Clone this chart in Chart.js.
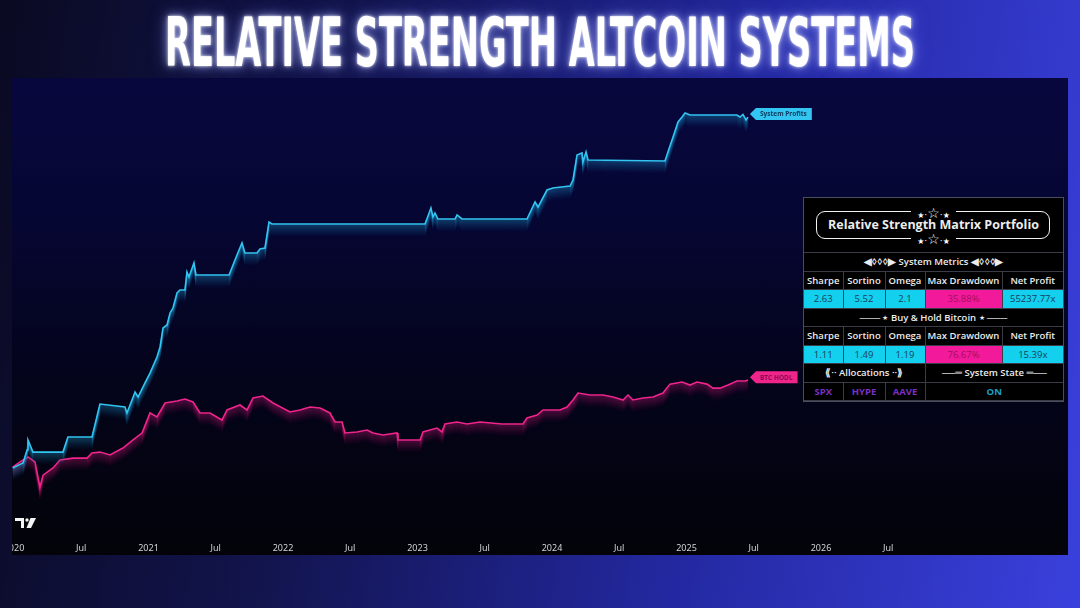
<!DOCTYPE html>
<html>
<head>
<meta charset="utf-8">
<script src="https://cdn.jsdelivr.net/npm/chart.js@4.4.0/dist/chart.umd.min.js"></script>
<style>
  body {
    margin: 0;
    width: 1080px;
    height: 608px;
    overflow: hidden;
    position: relative;
    background: linear-gradient(100deg, #0a0a22 0%, #12144c 30%, #2328a0 65%, #3a40dc 100%);
    font-family: 'Open Sans', 'Noto Sans', sans-serif;
  }
  #titleText {
    position: absolute;
    left: 540px;
    top: 3px;
    line-height: 80px;
    font-family: 'DejaVu Sans Condensed', 'DejaVu Sans', sans-serif;
    font-weight: bold;
    font-size: 68px;
    color: #ffffff;
    white-space: nowrap;
    transform-origin: center center;
    text-shadow: 0 0 4px rgba(255,255,255,0.9), 0 0 12px rgba(190,200,255,0.7), 0 0 24px rgba(130,140,255,0.55);
  }
  #panel {
    position: absolute;
    left: 12px;
    top: 78px;
    width: 1056px;
    height: 477px;
    overflow: hidden;
    background: linear-gradient(180deg, #07073e 0%, #060633 30%, #04041c 62%, #030309 100%);
  }
  #myChart {
    position: absolute;
    left: -32px;
    top: 0;
    width: 1088px;
    height: 477px;
  }
  #tvlogo {
    position: absolute;
    left: 15px;
    top: 518px;
  }
  .matrix {
    position: absolute;
    left: 803px;
    top: 197px;
    width: 259px;
    background: #000;
    border: 1px solid #4a4e5c;
    color: #ececec;
  }
  .mhead {
    position: relative;
    height: 54px;
    border-bottom: 1px solid #3a3d48;
  }
  .frame {
    position: absolute;
    left: 12px;
    top: 13px;
    width: 232px;
    height: 26px;
    border: 1.5px solid #f2f2f2;
    border-radius: 9px;
  }
  .stars {
    position: absolute;
    left: 0;
    width: 259px;
    text-align: center;
    line-height: 12px;
    height: 12px;
  }
  .stars > span {
    background: #000;
    padding: 0 6px;
    color: #fff;
    font-size: 9px;
    font-family: 'DejaVu Sans', sans-serif;
  }
  .stars .s { font-size: 8px; }
  .stars .b { font-size: 14px; }
  .stars.top { top: 8px; }
  .stars.bot { top: 34px; }
  .mtitle {
    position: absolute;
    left: 0;
    top: 17px;
    width: 259px;
    text-align: center;
    font-size: 12.5px;
    font-weight: 700;
    line-height: 20px;
    white-space: nowrap;
  }
  table {
    border-collapse: collapse;
    width: 259px;
    table-layout: fixed;
  }
  td {
    border: 1px solid #3a3d48;
    height: 17.5px;
    padding: 0;
    text-align: center;
    font-size: 9.5px;
    font-weight: 600;
    white-space: nowrap;
    overflow: hidden;
  }
  tr:first-child td { border-top: none; }
  td:first-child { border-left: none; }
  td:last-child { border-right: none; }
  td.val { background: #12d0ee; color: #1a3d58; font-weight: 500; }
  td.dd { background: #f2199a; color: #a4105c; font-weight: 500; }
  td.alloc { color: #7a30c4; font-weight: 700; }
  td.state { color: #1c9fc8; font-weight: 700; }
</style>
</head>
<body>
<span id="titleText">RELATIVE STRENGTH ALTCOIN SYSTEMS</span>
<div id="panel"><canvas id="myChart" width="1088" height="477"></canvas></div>
<svg id="tvlogo" width="22" height="11" viewBox="0 0 22 11">
  <path d="M0 0 H9 V10 H6 V3 H0 Z" fill="#f4f4f4"/>
  <circle cx="12" cy="2" r="1.7" fill="#f4f4f4"/>
  <path d="M15.5 0 H21 L16 10 H11.5 Z" fill="#f4f4f4"/>
</svg>
<div class="matrix">
  <div class="mhead">
    <div class="frame"></div>
    <div class="stars top"><span><span class="s">★</span>·<span class="b">☆</span>·<span class="s">★</span></span></div>
    <div class="stars bot"><span><span class="s">★</span>·<span class="b">☆</span>·<span class="s">★</span></span></div>
    <div class="mtitle">Relative Strength Matrix Portfolio</div>
  </div>
  <table class="js-table">
    <colgroup><col style="width:39px"><col style="width:42px"><col style="width:40px"><col style="width:77px"><col style="width:61px"></colgroup>
  </table>
</div>
<script>
// ---- data (x = decimal year, y = equity multiple) ----
const sysYears = [2019.99, 2020.067, 2020.097, 2020.104, 2020.141, 2020.364, 2020.401, 2020.580, 2020.639, 2020.825,
  2020.840, 2020.900, 2020.922, 2020.974, 2021.011, 2021.063, 2021.086, 2021.108, 2021.138, 2021.160,
  2021.182, 2021.212, 2021.234, 2021.271, 2021.286, 2021.301, 2021.338, 2021.353, 2021.599, 2021.643,
  2021.695, 2021.717, 2021.807, 2021.829, 2021.866, 2021.896, 2021.918, 2023.056, 2023.100, 2023.115,
  2023.130, 2023.152, 2023.279, 2023.294, 2023.331, 2023.814, 2023.874, 2023.896, 2023.963, 2024.007,
  2024.134, 2024.156, 2024.186, 2024.223, 2024.230, 2024.253, 2024.268, 2024.840, 2024.862, 2024.900,
  2024.937, 2024.967, 2024.989, 2025.026, 2025.375, 2025.398, 2025.420, 2025.443, 2025.457];
const sysValues = [1.0, 1.17, 1.75, 2.39, 1.64, 1.64, 2.62, 2.62, 7.32, 6.67,
  5.54, 10.6, 9.1, 14.1, 19.2, 31.6, 43.2, 78, 85.6, 124,
  145, 232, 254, 254, 445, 381, 589, 406, 406, 647,
  1099, 804, 804, 911, 940, 2110, 1983, 1983, 3264, 2466,
  2793, 2317, 2317, 2624, 2317, 2317, 3935, 3365, 5710, 6080,
  6470, 7800, 16980, 18070, 13650, 18630, 14520, 14090, 18630, 29720,
  47420, 55340, 62700, 58900, 58900, 55340, 60000, 50400, 55237.77];

const btcYears = [2019.99, 2020.045, 2020.104, 2020.156, 2020.178, 2020.193, 2020.216, 2020.290, 2020.342, 2020.439,
  2020.543, 2020.580, 2020.639, 2020.714, 2020.810, 2020.885, 2020.952, 2021.011, 2021.063, 2021.123,
  2021.212, 2021.271, 2021.331, 2021.383, 2021.457, 2021.546, 2021.584, 2021.680, 2021.732, 2021.777,
  2021.851, 2021.926, 2022.052, 2022.126, 2022.201, 2022.275, 2022.349, 2022.387, 2022.439, 2022.461,
  2022.550, 2022.625, 2022.669, 2022.743, 2022.848, 2022.855, 2023.019, 2023.041, 2023.093, 2023.145,
  2023.182, 2023.204, 2023.294, 2023.368, 2023.465, 2023.628, 2023.784, 2023.814, 2023.889, 2023.933,
  2024.059, 2024.112, 2024.156, 2024.193, 2024.283, 2024.379, 2024.454, 2024.528, 2024.565, 2024.602,
  2024.677, 2024.751, 2024.825, 2024.877, 2024.967, 2025.026, 2025.078, 2025.152, 2025.197, 2025.249,
  2025.309, 2025.375, 2025.435, 2025.457];
const btcValues = [1.03, 1.21, 1.41, 1.21, 0.76, 0.55, 0.80, 1.0, 1.28, 1.36,
  1.36, 1.60, 1.64, 1.50, 1.86, 2.39, 2.97, 5.54, 4.89, 7.56,
  8.04, 8.56, 7.80, 5.54, 5.54, 4.45, 6.08, 7.10, 6.08, 8.83,
  9.40, 7.56, 5.71, 6.08, 6.67, 6.47, 5.54, 4.19, 4.19, 2.97,
  3.07, 3.26, 2.97, 2.79, 2.97, 2.39, 2.39, 3.07, 3.26, 3.47,
  3.07, 3.93, 4.19, 3.93, 4.19, 3.93, 3.93, 4.74, 5.20, 6.08,
  6.08, 6.67, 8.30, 10.3, 9.69, 9.69, 9.11, 8.30, 9.69, 8.30,
  8.83, 9.11, 10.3, 13.6, 14.5, 13.2, 14.5, 13.6, 12.0, 12.0,
  13.2, 15.0, 15.0, 15.39];

const tickValues = [2020, 2020.5, 2021, 2021.5, 2022, 2022.5, 2023, 2023.5, 2024, 2024.5, 2025, 2025.5, 2026, 2026.5];
const tickLabels = ['2020', 'Jul', '2021', 'Jul', '2022', 'Jul', '2023', 'Jul', '2024', 'Jul', '2025', 'Jul', '2026', 'Jul'];

const metricNames = ['Sharpe', 'Sortino', 'Omega', 'Max Drawdown', 'Net Profit'];
const systemMetrics = ['2.63', '5.52', '2.1', '35.88%', '55237.77x'];
const bitcoinMetrics = ['1.11', '1.49', '1.19', '76.67%', '15.39x'];
const allocations = ['SPX', 'HYPE', 'AAVE'];
const systemState = 'ON';

// axis window (page px: 2020.0 at x=14, 134.5 px per year; multiple 1 at y=468, 74 px per decade)
const PLOT_BOTTOM = 536;
const X_MIN = 2020 + (-20 - 14) / 134.5;
const X_MAX = 2020 + (1068 - 14) / 134.5;
const Y_MAX = Math.pow(10, (468 - 78) / 74);
const Y_MIN = Math.pow(10, (468 - PLOT_BOTTOM) / 74);

const build_table = function () {
  const table = document.querySelector('.js-table');
  const cells = (arr, cls) => arr.map((v, i) => `<td class="${i === 3 && cls ? 'dd' : cls}">${v}</td>`).join('');
  table.insertAdjacentHTML('beforeend', `
    <tr><td colspan="5">◀◊◊◊▶ System Metrics ◀◊◊◊▶</td></tr>
    <tr>${cells(metricNames, '')}</tr>
    <tr>${cells(systemMetrics, 'val')}</tr>
    <tr><td colspan="5">─── ⋆ Buy &amp; Hold Bitcoin ⋆ ───</td></tr>
    <tr>${cells(metricNames, '')}</tr>
    <tr>${cells(bitcoinMetrics, 'val')}</tr>
    <tr><td colspan="3">⟪·· Allocations ··⟫</td><td colspan="2">──═ System State ═──</td></tr>
    <tr>${allocations.map(a => `<td class="alloc">${a}</td>`).join('')}<td colspan="2" class="state">${systemState}</td></tr>
  `);
};

// soft fading band under each line, like the TradingView glow
const glowPlugin = {
  id: 'glow',
  beforeDatasetDraw(chart, args) {
    const ds = chart.data.datasets[args.index];
    const pts = args.meta.data;
    const ctx = chart.ctx;
    ctx.save();
    ctx.beginPath();
    ctx.rect(chart.chartArea.left, chart.chartArea.top, chart.chartArea.width, chart.chartArea.height);
    ctx.clip();
    for (let k = 13; k >= 1; k--) {
      ctx.beginPath();
      pts.forEach((p, i) => (i ? ctx.lineTo(p.x, p.y + k) : ctx.moveTo(p.x, p.y + k)));
      ctx.strokeStyle = ds.glowColor;
      ctx.globalAlpha = 0.3 * Math.pow((14 - k) / 13, 1.4);
      ctx.lineWidth = 1.5;
      ctx.stroke();
    }
    ctx.restore();
  },
};

// end-of-line label tags
const tagPlugin = {
  id: 'tags',
  afterDatasetsDraw(chart) {
    const ctx = chart.ctx;
    chart.data.datasets.forEach((ds, i) => {
      const pts = chart.getDatasetMeta(i).data;
      const p = pts[pts.length - 1];
      ctx.save();
      ctx.font = 'bold 6.5px "Open Sans", sans-serif';
      const w = ctx.measureText(ds.label).width + 9;
      const x0 = p.x + 2;
      const y0 = p.y - 3;
      ctx.fillStyle = ds.borderColor;
      ctx.beginPath();
      ctx.moveTo(x0, y0);
      ctx.lineTo(x0 + 6, y0 - 6);
      ctx.lineTo(x0 + 6 + w, y0 - 6);
      ctx.lineTo(x0 + 6 + w, y0 + 6);
      ctx.lineTo(x0 + 6, y0 + 6);
      ctx.closePath();
      ctx.fill();
      ctx.fillStyle = ds.tagText;
      ctx.textBaseline = 'middle';
      ctx.fillText(ds.label, x0 + 10, y0 + 0.5);
      ctx.restore();
    });
  },
};

const init = function () {
  const t = document.getElementById('titleText');
  t.style.transform = `translateX(-50%) scaleX(${750 / t.offsetWidth})`;

  build_table();

  const ctx = document.getElementById('myChart').getContext('2d');
  new Chart(ctx, {
    type: 'line',
    data: {
      datasets: [
        {
          label: 'System Profits',
          data: sysYears.map((x, i) => ({ x: x, y: sysValues[i] })),
          borderColor: '#33c6f2',
          glowColor: '#1b86b8',
          tagText: '#0d3a5c',
          borderWidth: 1.6,
          pointRadius: 0,
          tension: 0,
        },
        {
          label: 'BTC HODL',
          data: btcYears.map((x, i) => ({ x: x, y: btcValues[i] })),
          borderColor: '#f0258c',
          glowColor: '#b01869',
          tagText: '#8a0c4c',
          borderWidth: 1.6,
          pointRadius: 0,
          tension: 0,
        },
      ],
    },
    options: {
      responsive: false,
      animation: false,
      layout: { padding: 0 },
      plugins: { legend: { display: false }, tooltip: { enabled: false } },
      scales: {
        x: {
          type: 'linear',
          min: X_MIN,
          max: X_MAX,
          grid: { display: false, drawTicks: false },
          border: { display: false },
          afterBuildTicks: (axis) => {
            axis.ticks = tickValues.map((v) => ({ value: v }));
          },
          afterFit: (axis) => {
            axis.height = 477 - (PLOT_BOTTOM - 78);
          },
          ticks: {
            autoSkip: false,
            maxRotation: 0,
            padding: 7,
            color: '#d2d3da',
            font: { size: 9, family: 'Noto Sans' },
            callback: (v, i) => tickLabels[i],
          },
        },
        y: {
          type: 'logarithmic',
          min: Y_MIN,
          max: Y_MAX,
          display: false,
        },
      },
    },
    plugins: [glowPlugin, tagPlugin],
  });
};

document.addEventListener('DOMContentLoaded', init);
</script>
</body>
</html>
